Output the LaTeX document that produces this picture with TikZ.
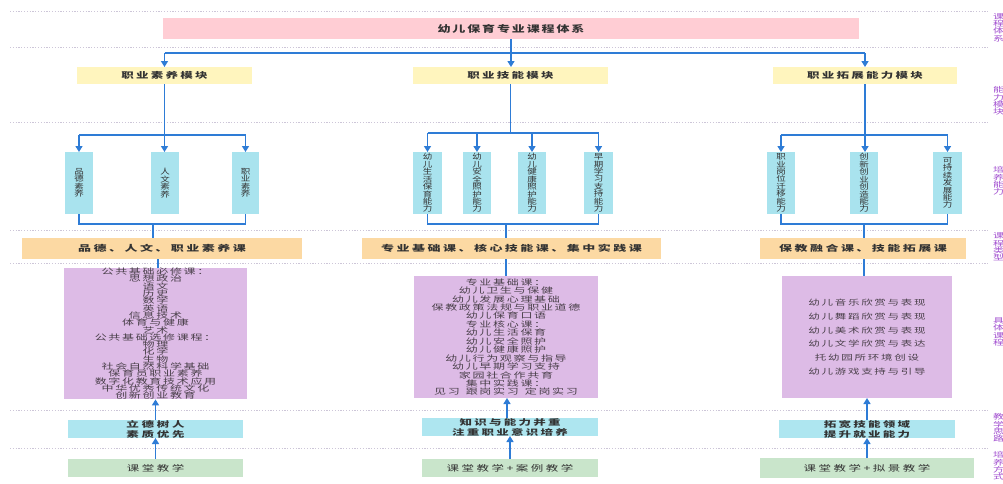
\documentclass[tikz,border=0pt]{standalone}
\usepackage{fontspec}
\setmainfont{Noto Sans CJK SC}
\usepackage{graphicx}
\usetikzlibrary{arrows.meta}
\definecolor{cPink}{HTML}{FFCDD4}
\definecolor{cYel}{HTML}{FFF5BE}
\definecolor{cCyan}{HTML}{A9E3EE}
\definecolor{cOra}{HTML}{FCD9A3}
\definecolor{cPur}{HTML}{DDBBE6}
\definecolor{cCyan2}{HTML}{AEE6F0}
\definecolor{cGrn}{HTML}{C9E5CB}
\definecolor{cBlue}{HTML}{2E7CD6}
\definecolor{cTxt}{HTML}{333333}
\definecolor{cPTxt}{HTML}{4A404A}
\definecolor{cLab}{HTML}{A24FD0}
\definecolor{cSep}{HTML}{CDC6D8}
% #1 yscale, #2 size, #3 baselineskip, #4 letterspace, #5 lines (separated by \\)
\newcommand{\ml}[5]{\scalebox{1}[#1]{\fontsize{#2}{#3}\selectfont\addfontfeature{LetterSpace=#4}%
  \vbox{\lineskiplimit=-100pt\lineskip=0pt\let\\\cr\halign{\hfil##\hfil\cr#5\cr}}}}
\newcommand{\bx}[7]{\node[#6, anchor=north west, minimum width={(#4-#2)*1pt}, minimum height={(#5-#3)*1pt}] (#1) at (#2,#3) {#7};}
\tikzset{
  box/.style={rectangle, draw=none, inner sep=0pt, outer sep=0pt, text=cTxt},
  ttl/.style={box, fill=cPink, font=\bfseries},
  modb/.style={box, fill=cYel, font=\bfseries},
  abil/.style={box, fill=cCyan},
  crs/.style={box, fill=cOra, font=\bfseries},
  pur/.style={box, fill=cPur, text=cPTxt},
  idea/.style={box, fill=cCyan2, font=\bfseries},
  meth/.style={box, fill=cGrn},
  ln/.style={draw=cBlue, line width=1.4pt},
  arr/.style={ln, -{Triangle[width=7pt,length=6pt]}},
  sepl/.style={draw=cSep, line width=0.8pt, dash pattern=on 1.2pt off 1.6pt},
  lab/.style={inner sep=0pt, text=cLab, anchor=west}
}
\begin{document}
\begin{tikzpicture}[x=1pt,y=-1pt]
\useasboundingbox (0,0) rectangle (1003,483);
\fill[white] (0,0) rectangle (1003,483);
% separators
\foreach \yy in {11,47,122,230,263,410,448} \draw[sepl] (10,\yy) -- (988,\yy);
% title and modules
\bx{title}{163}{18}{859}{39}{ttl}{\ml{0.71}{13}{13}{14.5}{幼儿保育专业课程体系}}
\bx{mod1}{77}{67}{252}{84}{modb}{\ml{0.66}{12.5}{12.5}{18}{职业素养模块}}
\bx{mod2}{413}{67}{608}{84}{modb}{\ml{0.66}{12.5}{12.5}{18}{职业技能模块}}
\bx{mod3}{773}{67}{957}{84}{modb}{\ml{0.66}{12.5}{12.5}{18}{职业拓展能力模块}}
% ability boxes
\bx{a11}{65}{152}{93}{214}{abil}{\ml{0.8}{9.5}{9.3}{0}{品\\德\\素\\养}}
\bx{a12}{151}{152}{179}{214}{abil}{\ml{0.8}{9.5}{9.3}{0}{人\\文\\素\\养}}
\bx{a13}{232}{152}{259}{214}{abil}{\ml{0.8}{9.5}{9.3}{0}{职\\业\\素\\养}}
\bx{a21}{413}{152}{442}{214}{abil}{\ml{0.8}{9.5}{9.3}{0}{幼\\儿\\生\\活\\保\\育\\能\\力}}
\bx{a22}{463}{152}{491}{214}{abil}{\ml{0.8}{9.5}{9.3}{0}{幼\\儿\\安\\全\\照\\护\\能\\力}}
\bx{a23}{518}{152}{546}{214}{abil}{\ml{0.8}{9.5}{9.3}{0}{幼\\儿\\健\\康\\照\\护\\能\\力}}
\bx{a24}{584}{152}{613}{214}{abil}{\ml{0.8}{9.5}{9.3}{0}{早\\期\\学\\习\\支\\持\\能\\力}}
\bx{a31}{767}{152}{795}{214}{abil}{\ml{0.8}{9.5}{9.3}{0}{职\\业\\岗\\位\\迁\\移\\能\\力}}
\bx{a32}{850}{152}{878}{214}{abil}{\ml{0.8}{9.5}{9.3}{0}{创\\新\\创\\业\\创\\造\\能\\力}}
\bx{a33}{933}{152}{962}{214}{abil}{\ml{0.8}{9.5}{9.3}{0}{可\\持\\续\\发\\展\\能\\力}}
% course types
\bx{c1}{22}{238}{302}{259}{crs}{\ml{0.64}{13}{13}{19}{品德、人文、职业素养课}}
\bx{c2}{362}{238}{661}{259}{crs}{\ml{0.64}{13}{13}{19}{专业基础课、核心技能课、集中实践课}}
\bx{c3}{760}{238}{966}{259}{crs}{\ml{0.64}{13}{13}{19}{保教融合课、技能拓展课}}
% concrete courses
\bx{p1}{64}{268}{247}{398}{pur}{\ml{0.66}{12}{11.06}{14}{公共基础必修课：\\思想政治\\语文\\历史\\数学\\英语\\信息技术\\体育与健康\\艺术\\公共基础选修课程：\\物理\\化学\\生物\\社会自然科学基础\\保育员职业素养\\数字化教育技术应用\\中华优秀传统文化\\创新创业教育}}
\bx{p2}{414}{276}{598}{398}{pur}{\ml{0.66}{12}{12.8}{14}{专业基础课：\\幼儿卫生与保健\\幼儿发展心理基础\\保教政策法规与职业道德\\幼儿保育口语\\专业核心课：\\幼儿生活保育\\幼儿安全照护\\幼儿健康照护\\幼儿行为观察与指导\\幼儿早期学习支持\\家园社合作共育\\集中实践课：\\见习\hspace{6pt}跟岗实习\hspace{6pt}定岗实习}}
\bx{p3}{782}{276}{952}{398}{pur}{\ml{0.66}{11.5}{20.8}{15}{幼儿音乐欣赏与表现\\幼儿舞蹈欣赏与表现\\幼儿美术欣赏与表现\\幼儿文学欣赏与表达\\托幼园所环境创设\\幼儿游戏支持与引导}}
% teaching ideas
\bx{b1}{68}{420}{243}{438}{idea}{\ml{0.64}{12.5}{15.6}{22}{立德树人\\素质优先}}
\bx{b2}{422}{418}{598}{436}{idea}{\ml{0.64}{12.5}{15.6}{18}{知识与能力并重\\注重职业意识培养}}
\bx{b3}{779}{420}{955}{438}{idea}{\ml{0.64}{12.5}{15.6}{18}{拓宽技能领域\\提升就业能力}}
% teaching methods
\bx{g1}{68}{459}{243}{477}{meth}{\ml{0.66}{12.5}{12.5}{20}{课堂教学}}
\bx{g2}{422}{459}{598}{477}{meth}{\ml{0.66}{12.5}{12.5}{20}{课堂教学+案例教学}}
\bx{g3}{760}{458}{974}{478}{meth}{\ml{0.66}{12.5}{12.5}{20}{课堂教学+拟景教学}}
% right-hand labels
\node[lab] (l1) at (993,27.5) {\ml{0.66}{11}{11}{0}{课\\程\\体\\系}};
\node[lab] (l2) at (993,101) {\ml{0.66}{11}{11}{0}{能\\力\\模\\块}};
\node[lab] (l3) at (993,181) {\ml{0.66}{11}{11}{0}{培\\养\\能\\力}};
\node[lab] (l4) at (993,247) {\ml{0.66}{11}{11}{0}{课\\程\\类\\型}};
\node[lab] (l5) at (993,332) {\ml{0.66}{11}{11}{0}{具\\体\\课\\程}};
\node[lab] (l6) at (993,428) {\ml{0.66}{11}{11}{0}{教\\学\\思\\路}};
\node[lab] (l7) at (993,466) {\ml{0.66}{11}{11}{0}{培\\养\\方\\式}};
% title to modules
\draw[ln] (mod1.north |- 0,53) -- (mod3.north |- 0,53);
\draw[arr] (title.south) -- (title.south |- mod2.north);
\draw[arr] (mod1.north |- 0,53) -- (mod1.north);
\draw[arr] (mod3.north |- 0,53) -- (mod3.north);
% left column
\draw[arr] (mod1.south) -- (mod1.south |- a12.north);
\draw[ln] (a11.north |- 0,135) -- (a13.north |- 0,135);
\draw[arr] (a11.north |- 0,135) -- (a11.north);
\draw[arr] (a13.north |- 0,135) -- (a13.north);
\draw[ln] (a11.south) -- (a11.south |- 0,224) -- (a13.south |- 0,224) -- (a13.south);
\coordinate (j1) at (153,224);
\draw[ln] (j1) -- (c1.north -| j1);
\draw[ln] (c1.south -| 158,0) -- (p1.north -| 158,0);
\draw[arr] (b1.north) -- (p1.south -| b1.north);
\draw[arr] (g1.north) -- (b1.south);
% middle column
\draw[ln] (mod2.south) -- (mod2.south |- 0,133);
\draw[ln] (a21.north |- 0,133) -- (a24.north |- 0,133);
\foreach \n in {a21,a22,a23,a24} \draw[arr] (\n.north |- 0,133) -- (\n.north);
\draw[ln] (a21.south) -- (a21.south |- 0,224) -- (a24.south |- 0,224) -- (a24.south);
\coordinate (j2) at (506,224);
\draw[ln] (j2) -- (c2.north -| j2);
\draw[ln] (c2.south -| j2) -- (p2.north -| j2);
\draw[arr] (b2.north -| 507,0) -- (p2.south -| 507,0);
\draw[arr] (g2.north) -- (b2.south);
% right column
\draw[arr] (mod3.south) -- (mod3.south |- a32.north);
\draw[ln] (a31.north |- 0,135) -- (a33.north |- 0,135);
\draw[arr] (a31.north |- 0,135) -- (a31.north);
\draw[arr] (a33.north |- 0,135) -- (a33.north);
\draw[ln] (a31.south) -- (a31.south |- 0,224) -- (a33.south |- 0,224) -- (a33.south);
\coordinate (j3) at (864,224);
\draw[ln] (j3) -- (c3.north -| j3);
\draw[ln] (c3.south -| j3) -- (p3.north -| j3);
\draw[arr] (b3.north) -- (p3.south -| b3.north);
\draw[arr] (g3.north) -- (g3.north |- b3.south);
\end{tikzpicture}
\end{document}
